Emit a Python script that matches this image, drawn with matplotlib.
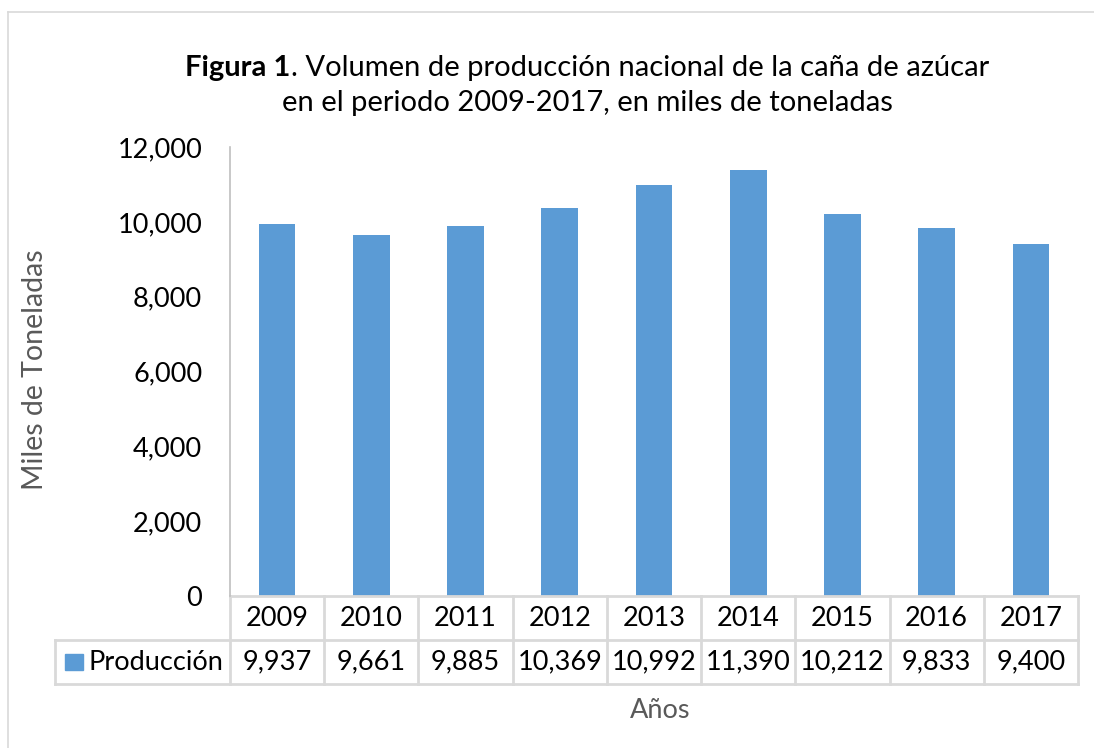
import numpy as np
import matplotlib
matplotlib.use("Agg")
import matplotlib.pyplot as plt
from matplotlib.patches import Rectangle

plt.rcParams['font.family'] = ['Lato', 'DejaVu Sans']

years = ['2009', '2010', '2011', '2012', '2013', '2014', '2015', '2016', '2017']
produccion = [9937, 9661, 9885, 10369, 10992, 11390, 10212, 9833, 9400]
yticks = [0, 2000, 4000, 6000, 8000, 10000, 12000]

bar_color = '#5B9BD5'
grid_color = '#D9D9D9'
gray_text = '#595959'
fs = 19.5

W, H = 1094, 748
fig = plt.figure(figsize=(W / 100, H / 100), dpi=100)

# outer chart frame (only left and top visible)
fig.add_artist(plt.Line2D([8 / W, 8 / W], [0, 1 - 12 / H], color=grid_color, lw=1.2))
fig.add_artist(plt.Line2D([8 / W, 1], [1 - 12 / H, 1 - 12 / H], color=grid_color, lw=1.2))

ax = fig.add_axes([230 / W, 1 - 596 / H, 848 / W, 449 / H])
x = np.arange(len(years))
ax.bar(x, produccion, width=0.39, color=bar_color)
ax.set_xlim(-0.5, len(years) - 0.5)
ax.set_ylim(0, 12000)
ax.set_yticks(yticks)
ax.set_yticklabels([f'{v:,}' for v in yticks], fontsize=fs)
ax.tick_params(axis='y', length=0, pad=20)
ax.set_xticks([])
for s in ['top', 'right', 'bottom']:
    ax.spines[s].set_visible(False)
ax.spines['left'].set_color('#BFBFBF')
ax.spines['left'].set_linewidth(1.2)

# data table under the axis
tr = ax.get_xaxis_transform()
r1 = -44 / 449
r2 = -88 / 449
leg_left = -0.5 - 175 / (848 / 9)
kw = dict(transform=tr, color=grid_color, lw=2, clip_on=False)
ax.plot([-0.5, 8.5], [0, 0], **kw)
ax.plot([leg_left, 8.5], [r1, r1], **kw)
ax.plot([leg_left, 8.5], [r2, r2], **kw)
ax.plot([leg_left, leg_left], [r1, r2], **kw)
for b in np.arange(-0.5, len(years), 1.0):
    ax.plot([b, b], [0, r2], **kw)
for i, (yr, v) in enumerate(zip(years, produccion)):
    ax.text(i, r1 / 2, yr, transform=tr, ha='center', va='center', fontsize=fs)
    ax.text(i, (r1 + r2) / 2, f'{v:,}', transform=tr, ha='center', va='center', fontsize=fs)

# legend key in first cell
ax.add_patch(Rectangle((leg_left + 0.105, (r1 + r2) / 2 - 0.018), 0.19, 0.036,
                       transform=tr, color=bar_color, clip_on=False))
ax.text(leg_left + 0.36, (r1 + r2) / 2, 'Producción', transform=tr,
        ha='left', va='center', fontsize=fs)

fig.text(35 / W, 1 - 370 / H, 'Miles de Toneladas', rotation=90, ha='center',
         va='center', fontsize=fs + 1, color=gray_text)
fig.text(660 / W, 1 - 711 / H, 'Años', ha='center', va='center', fontsize=fs,
         color=gray_text)

# title with bold prefix
fig.canvas.draw()
r = fig.canvas.get_renderer()
cx = 587 / W
y1 = 1 - 68 / H
tfs = 21
t1 = fig.text(0, y1, 'Figura 1', fontsize=tfs, weight='bold', ha='left', va='center')
t2 = fig.text(0, y1, '. Volumen de producción nacional de la caña de azúcar',
              fontsize=tfs, ha='left', va='center')
w1 = t1.get_window_extent(r).width / W
w2 = t2.get_window_extent(r).width / W
x0 = cx - (w1 + w2) / 2
t1.set_x(x0)
t2.set_x(x0 + w1)
fig.text(cx, 1 - 103 / H, 'en el periodo 2009-2017, en miles de toneladas',
         fontsize=tfs, ha='center', va='center')

fig.savefig('out.png', dpi=100)
